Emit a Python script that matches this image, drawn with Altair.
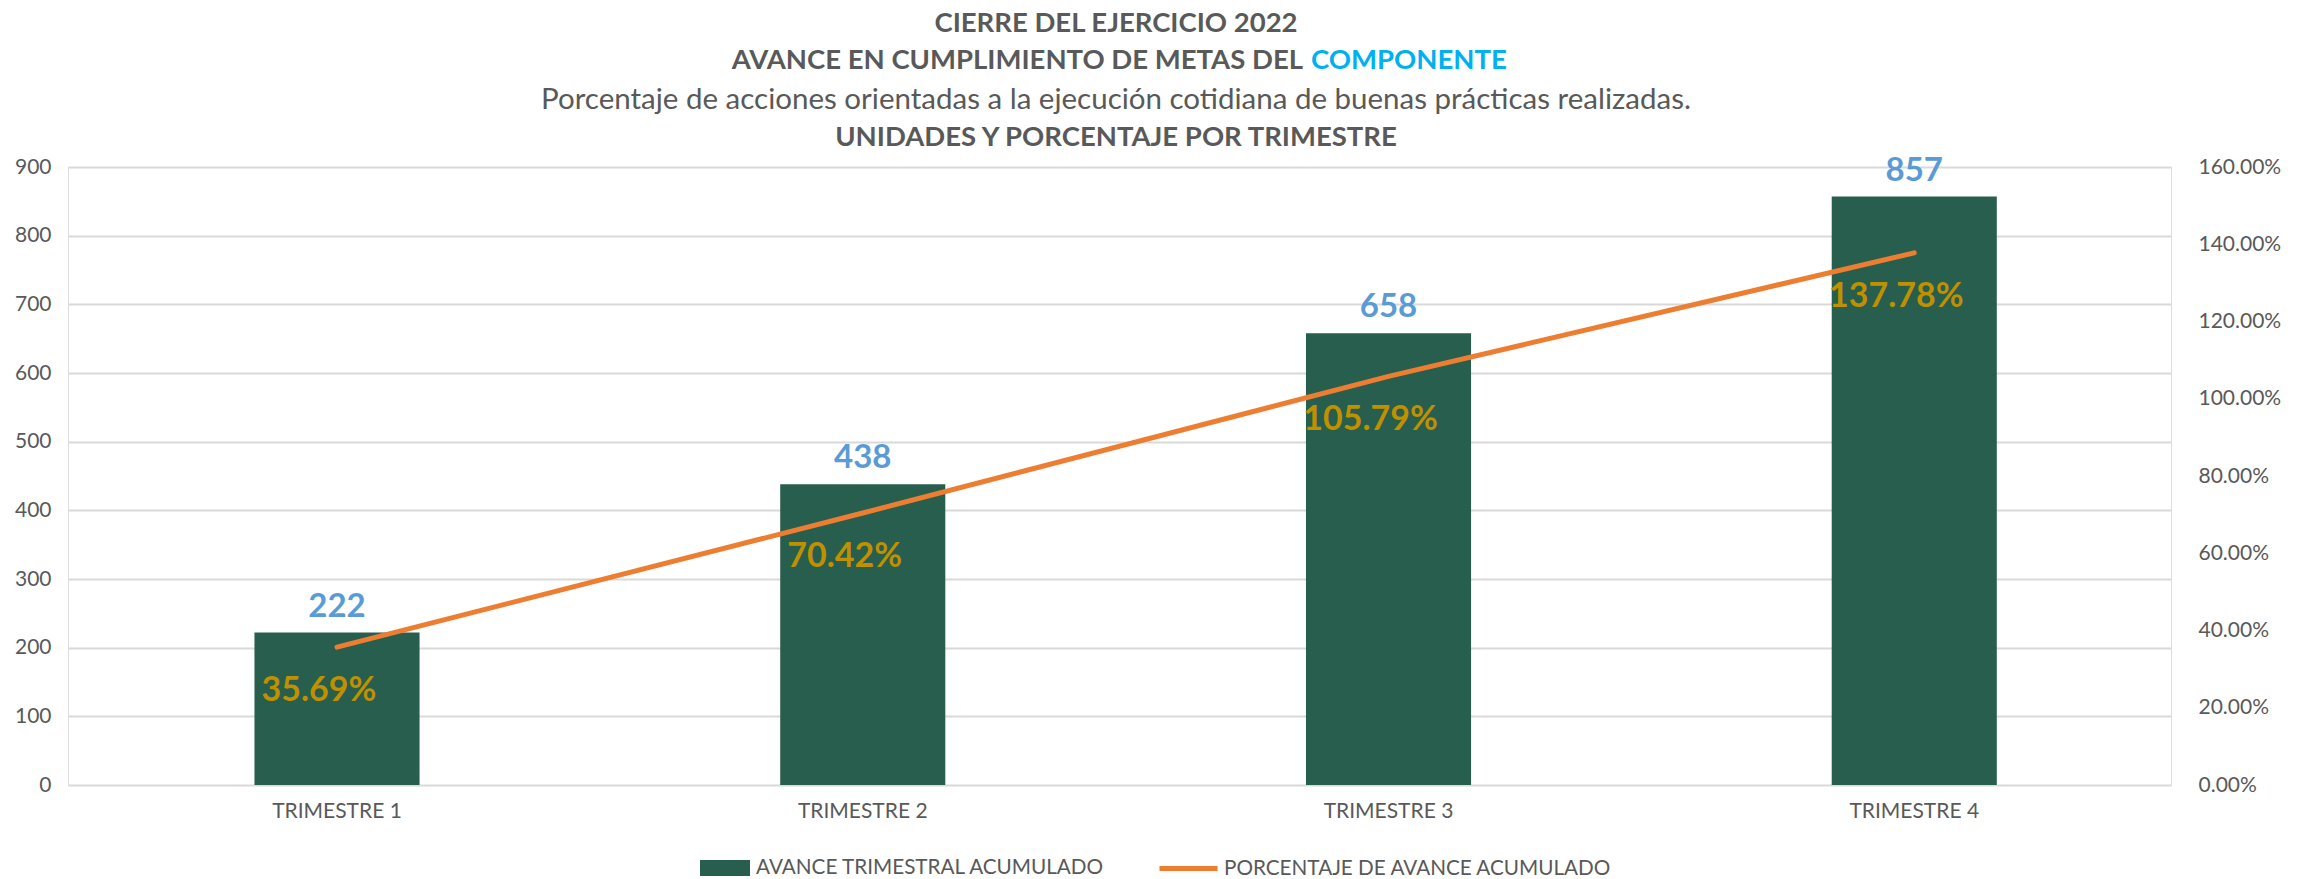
import altair as alt
import pandas as pd

trimestres = ["TRIMESTRE 1", "TRIMESTRE 2", "TRIMESTRE 3", "TRIMESTRE 4"]
avance = [222, 438, 658, 857]
porcentaje = [0.3569, 0.7042, 1.0579, 1.3778]

serie_barra = "AVANCE TRIMESTRAL ACUMULADO"
serie_linea = "PORCENTAJE DE AVANCE ACUMULADO"

titulo1 = "CIERRE DEL EJERCICIO 2022"
titulo2a = "AVANCE EN CUMPLIMIENTO DE METAS DEL"
titulo2b = "COMPONENTE"
titulo3 = "Porcentaje de acciones orientadas a la ejecución cotidiana de buenas prácticas realizadas."
titulo4 = "UNIDADES Y PORCENTAJE POR TRIMESTRE"

FONT = "Lato"
GRAY = "#595959"
GREEN = "#275E4D"
ORANGE = "#ED7D31"
BLUE = "#5B9BD5"
GOLD = "#BF9000"

df = pd.DataFrame({
    "trimestre": trimestres,
    "avance": avance,
    "porcentaje": porcentaje,
    "s1": [serie_barra] * 4,
    "s2": [serie_linea] * 4,
})

W, H = 2103, 618

x = alt.X("trimestre:N", sort=trimestres,
          scale=alt.Scale(paddingInner=0.686, paddingOuter=0.343, align=0.517),
          axis=alt.Axis(title=None, labelAngle=0, domain=False, ticks=False,
                        labelFont=FONT, labelFontSize=21, labelColor=GRAY,
                        labelPadding=15, grid=False))

yl_scale = alt.Scale(domain=[0, 900])
yr_scale = alt.Scale(domain=[0, 1.6])

bars = alt.Chart(df).mark_bar().encode(
    x=x,
    y=alt.Y("avance:Q", scale=yl_scale,
            axis=alt.Axis(title=None, orient="left", values=list(range(0, 901, 100)),
                          domain=False, ticks=False, labelFont=FONT, labelFontSize=21,
                          labelColor=GRAY, labelPadding=17, gridColor="#D9D9D9",
                          gridWidth=2)),
    fill=alt.Fill("s1:N", scale=alt.Scale(domain=[serie_barra], range=[GREEN]),
                  legend=alt.Legend(orient="none", legendX=632, legendY=676,
                                    title=None, direction="horizontal", padding=0,
                                    symbolType="M-1,-0.32H1V0.32H-1Z", symbolSize=2500,
                                    symbolStrokeWidth=0, labelOffset=6, labelLimit=0,
                                    labelFont=FONT, labelFontSize=20.7, labelColor=GRAY)),
)

bar_text = alt.Chart(df).mark_text(
    font=FONT, fontSize=33, fontWeight="bold", color=BLUE, baseline="alphabetic", dy=-16
).encode(
    x=alt.X("trimestre:N", sort=trimestres),
    y=alt.Y("avance:Q", scale=yl_scale),
    text=alt.Text("avance:Q"),
)

line = alt.Chart(df).mark_line(strokeWidth=5, strokeCap="round").encode(
    x=alt.X("trimestre:N", sort=trimestres),
    y=alt.Y("porcentaje:Q", scale=yr_scale,
            axis=alt.Axis(title=None, orient="right", format=".2%",
                          values=[i / 100 for i in range(0, 161, 20)],
                          domain=False, ticks=False, grid=False, labelFont=FONT,
                          labelFontSize=21, labelColor=GRAY, labelPadding=27)),
    stroke=alt.Stroke("s2:N", scale=alt.Scale(domain=[serie_linea], range=[ORANGE]),
                      legend=alt.Legend(orient="none", legendX=1089, legendY=670,
                                        title=None, direction="horizontal", padding=0,
                                        symbolType="stroke", symbolSize=3364,
                                        symbolStrokeWidth=5, labelOffset=4, labelLimit=0,
                                        labelFont=FONT, labelFontSize=20.7, labelColor=GRAY)),
)

line_text = alt.Chart(df).mark_text(
    font=FONT, fontSize=34, fontWeight="bold", color=GOLD, baseline="middle",
    align="center", dx=-18, dy=44
).encode(
    x=alt.X("trimestre:N", sort=trimestres),
    y=alt.Y("porcentaje:Q", scale=yr_scale),
    text=alt.Text("porcentaje:Q", format=".2%"),
)

one = pd.DataFrame({"a": [0]})
def label(txt, xv, yv, size, weight, color, align="center"):
    return alt.Chart(one).mark_text(
        text=txt, font=FONT, fontSize=size, fontWeight=weight, color=color,
        align=align, baseline="middle"
    ).encode(x=alt.value(xv), y=alt.value(yv))

titles = alt.layer(
    label(titulo1, 1048, -143, 27.5, "bold", GRAY),
    label(titulo2a, 1235, -106, 27.5, "bold", GRAY, align="right"),
    label(titulo2b, 1243, -106, 27.5, "bold", "#00B0F0", align="left"),
    label(titulo3, 1048, -67, 29.5, "normal", GRAY),
    label(titulo4, 1048, -29, 27.5, "bold", GRAY),
)

chart = alt.layer(
    alt.layer(bars, bar_text),
    alt.layer(line, line_text),
    titles,
).resolve_scale(y="independent", fill="independent", stroke="independent").properties(
    width=W, height=H,
    autosize=alt.AutoSizeParams(type="none"),
    padding={"left": 60, "top": 159, "right": 129, "bottom": 94},
).configure_view(stroke=None).configure(background="white")

chart.save("out.html", embed_options={"renderer": "svg", "actions": False})
